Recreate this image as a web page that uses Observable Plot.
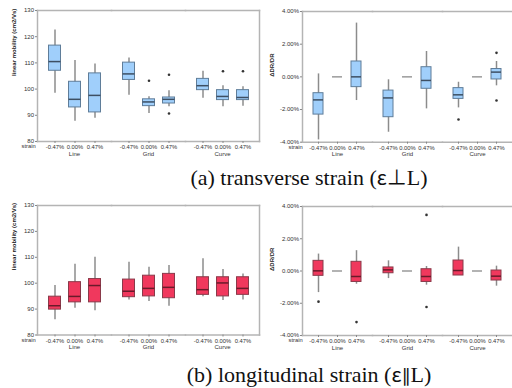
<!DOCTYPE html>
<html><head><meta charset="utf-8">
<script src="https://cdn.jsdelivr.net/npm/d3@7"></script>
<script src="https://cdn.jsdelivr.net/npm/@observablehq/plot@0.6"></script>
<style>
html,body{margin:0;padding:0;background:#fff;}
#wrap{position:relative;width:512px;height:388px;overflow:hidden;background:#fff;}
.pn{position:absolute;}
.cap{position:absolute;font-family:"Liberation Serif","Times New Roman",serif;font-size:22px;color:#111;white-space:nowrap;transform:translateX(-50%);}
.sym{font-family:"Noto Sans CJK JP","DejaVu Sans",sans-serif;font-size:20px;}
.par{font-family:"DejaVu Sans",sans-serif;font-size:18px;}
</style></head>
<body><div id="wrap">
<div class="pn" id="pa1" style="left:0;top:0"></div>
<div class="pn" id="pa2" style="left:256px;top:0"></div>
<div class="cap" style="left:309px;top:162px">(a) transverse strain (<span class="sym">ε⊥</span>L)</div>
<div class="pn" id="pb1" style="left:0;top:195px"></div>
<div class="pn" id="pb2" style="left:256px;top:195px"></div>
<div class="cap" style="left:309px;top:359px">(b) longitudinal strain (<span class="sym">ε</span><span class="par">∥</span>L)</div>
</div>
<script>
const groups = ["Line", "Grid", "Curve"];
const strains = ["-0.47%", "0.00%", "0.47%"];
const mobTicks = [80, 90, 100, 110, 120, 130];
const drTicks = [-4, -2, 0, 2, 4];

// (a) transverse strain: linear mobility (cm2/Vs)
const aMobLow  = [98.4, 87.7, 88.9, 97.7, 90.7, 93.3, 96.5, 93.3, 93.5];
const aMobQ1   = [107.0, 93.0, 91.1, 103.5, 93.5, 94.5, 99.6, 95.8, 95.8];
const aMobMed  = [110.5, 96.1, 97.6, 105.8, 95.1, 96.1, 101.3, 97.2, 96.8];
const aMobQ3   = [116.6, 102.8, 106.0, 110.1, 96.1, 96.8, 103.9, 99.6, 99.6];
const aMobHigh = [122.6, 110.9, 109.6, 111.9, 97.1, 99.4, 106.8, 101.3, 100.9];
const aMobOutG = ["Grid", "Grid", "Grid", "Curve", "Curve"];
const aMobOutS = ["0.00%", "0.47%", "0.47%", "0.00%", "0.47%"];
const aMobOutV = [103.2, 105.5, 90.7, 106.8, 106.8];

// (a) transverse strain: ΔDR/DR (%)
const aDrLow  = [-3.86, 0, -1.45, -3.39, 0, -1.96, -1.90, 0, -0.55];
const aDrQ1   = [-2.31, 0, -0.63, -2.47, 0, -0.73, -1.35, 0, -0.16];
const aDrMed  = [-1.41, 0, 0.00, -1.29, 0, -0.22, -1.10, 0, 0.29];
const aDrQ3   = [-1.00, 0, 0.94, -0.84, 0, 0.59, -0.69, 0, 0.48];
const aDrHigh = [0.18, 0, 3.29, -0.18, 0, 1.55, -0.33, 0, 0.94];
const aDrOutG = ["Curve", "Curve", "Curve"];
const aDrOutS = ["-0.47%", "0.47%", "0.47%"];
const aDrOutV = [-2.61, 1.47, -1.45];

// (b) longitudinal strain: linear mobility (cm2/Vs)
const bMobLow  = [85.9, 90.3, 89.4, 93.5, 92.9, 91.1, 94.8, 93.3, 93.5];
const bMobQ1   = [89.8, 92.6, 92.6, 94.6, 94.9, 94.2, 95.5, 94.9, 95.5];
const bMobMed  = [91.3, 94.9, 99.1, 96.9, 98.0, 98.4, 97.5, 100.1, 98.0];
const bMobQ3   = [94.8, 100.4, 101.6, 101.4, 102.9, 103.6, 102.3, 102.3, 102.3];
const bMobHigh = [99.1, 107.3, 110.0, 108.1, 106.2, 106.8, 109.4, 105.3, 103.6];
const bMobOutG = [];
const bMobOutS = [];
const bMobOutV = [];

// (b) longitudinal strain: ΔDR/DR (%)
const bDrLow  = [-1.34, 0, -0.82, -0.47, 0, -0.88, -0.26, 0, -0.94];
const bDrQ1   = [-0.30, 0, -0.68, -0.14, 0, -0.68, -0.28, 0, -0.59];
const bDrMed  = [0.01, 0, -0.34, 0.07, 0, -0.34, 0.03, 0, -0.32];
const bDrQ3   = [0.63, 0, 0.57, 0.22, 0, 0.11, 0.65, 0, 0.03];
const bDrHigh = [1.05, 0, 1.26, 0.63, 0, 0.28, 1.48, 0, 0.30];
const bDrOutG = ["Line", "Line", "Grid", "Grid"];
const bDrOutS = ["-0.47%", "0.47%", "0.47%", "0.47%"];
const bDrOutV = [-1.90, -3.17, 3.48, -2.23];

function rowsOf(low, q1, med, q3, high) {
  return low.map((_, i) => ({
    g: groups[Math.floor(i / 3)], s: strains[i % 3],
    low: low[i], q1: q1[i], med: med[i], q3: q3[i], high: high[i]
  }));
}
function outOf(G, S, V) { return V.map((v, i) => ({g: G[i], s: S[i], v})); }

const frameColor = "#b4b4b4";
const font = "'Liberation Sans', Arial, sans-serif";

function panel(o) {
  const rows = o.rows;
  return Plot.plot({
    width: o.width, height: o.height,
    marginLeft: o.ml, marginRight: o.mr, marginTop: o.mt, marginBottom: o.mb,
    style: {background: "transparent", fontFamily: font, fontSize: "6px", color: "#333", overflow: "visible"},
    fx: {domain: groups, padding: 0, axis: null, label: null},
    x: {domain: strains, paddingInner: o.pi, paddingOuter: o.po, axis: null, label: null},
    y: {domain: o.yDomain, axis: null, label: null},
    marks: [
      Plot.frame({anchor: "top", stroke: frameColor, strokeWidth: 1.5}),
      Plot.frame({anchor: "bottom", stroke: frameColor, strokeWidth: 1.5}),
      Plot.frame({anchor: "left", facetAnchor: "left", stroke: frameColor, strokeWidth: 1.5}),
      ...(o.rightLine ? [Plot.frame({anchor: "right", facetAnchor: "right", stroke: frameColor, strokeWidth: 1.5})] : []),
      Plot.axisY({anchor: "left", ticks: o.yTicks, tickFormat: o.yFormat, tickSize: 2, tickPadding: 1.5, stroke: "#888", fontSize: 6, label: null}),
      Plot.axisX({anchor: "bottom", tickSize: 2, tickPadding: 1.5, stroke: "#888", fontSize: 5.8, label: null}),
      Plot.axisFx({anchor: "bottom", tickSize: 0, tickPadding: 10, fontSize: 6, label: null}),
      Plot.text([{g: "Line", t: "strain"}], {fx: "g", text: "t", frameAnchor: "bottom-left", dx: o.strainDx, dy: 6.5, fontSize: 5.8, fill: "#333"}),
      Plot.text([{g: "Line", t: o.title}], {fx: "g", text: "t", frameAnchor: "left", rotate: -90, dx: o.titleDx, fontSize: 6, fontWeight: "bold", fill: "#222"}),
      Plot.ruleX(rows, {fx: "g", x: "s", y1: "low", y2: "high", stroke: "#8c8c8c", strokeWidth: 1.5}),
      Plot.barY(rows.filter(d => d.q3 > d.q1), {fx: "g", x: "s", y1: "q1", y2: "q3", fill: o.fill, stroke: o.boxStroke, strokeWidth: 1}),
      Plot.tickY(rows, {fx: "g", x: "s", y: "med", stroke: d => d.q3 > d.q1 ? o.medStroke : "#9a9a9a", strokeWidth: 1.5}),
      Plot.dot(o.outliers, {fx: "g", x: "s", y: "v", r: 1.3, fill: "#333", stroke: null})
    ]
  });
}

const mobFmt = d3.format("d");
const drFmt = v => v.toFixed(2) + "%";
const blue = {fill: "#a0cffb", boxStroke: "#5f7d99", medStroke: "#3d4f63"};
const red = {fill: "#f0385d", boxStroke: "#8a3a4a", medStroke: "#6a1a2a"};
const leftGeom = {width: 260, height: 160, ml: 36.5, mr: 1.5, pi: 0.42, po: 0.5, titleDx: -23, strainDx: -16, rightLine: true};
const rightGeom = {width: 256, height: 160, ml: 45, mr: 0, pi: 0.45, po: 0.48, titleDx: -30, strainDx: -14, rightLine: false};

document.getElementById("pa1").append(panel({...leftGeom, ...blue, mt: 10, mb: 19,
  rows: rowsOf(aMobLow, aMobQ1, aMobMed, aMobQ3, aMobHigh), outliers: outOf(aMobOutG, aMobOutS, aMobOutV),
  yDomain: [80, 130], yTicks: mobTicks, yFormat: mobFmt, title: "linear mobility (cm2/Vs)"}));
document.getElementById("pa2").append(panel({...rightGeom, ...blue, mt: 11, mb: 18.3,
  rows: rowsOf(aDrLow, aDrQ1, aDrMed, aDrQ3, aDrHigh), outliers: outOf(aDrOutG, aDrOutS, aDrOutV),
  yDomain: [-4, 4], yTicks: drTicks, yFormat: drFmt, title: "ΔDR/DR"}));
document.getElementById("pb1").append(panel({...leftGeom, ...red, mt: 10, mb: 20.5,
  rows: rowsOf(bMobLow, bMobQ1, bMobMed, bMobQ3, bMobHigh), outliers: outOf(bMobOutG, bMobOutS, bMobOutV),
  yDomain: [80, 130], yTicks: mobTicks, yFormat: mobFmt, title: "linear mobility (cm2/Vs)"}));
document.getElementById("pb2").append(panel({...rightGeom, ...red, mt: 11, mb: 20,
  rows: rowsOf(bDrLow, bDrQ1, bDrMed, bDrQ3, bDrHigh), outliers: outOf(bDrOutG, bDrOutS, bDrOutV),
  yDomain: [-4, 4], yTicks: drTicks, yFormat: drFmt, title: "ΔDR/DR"}));
</script>
</body></html>
